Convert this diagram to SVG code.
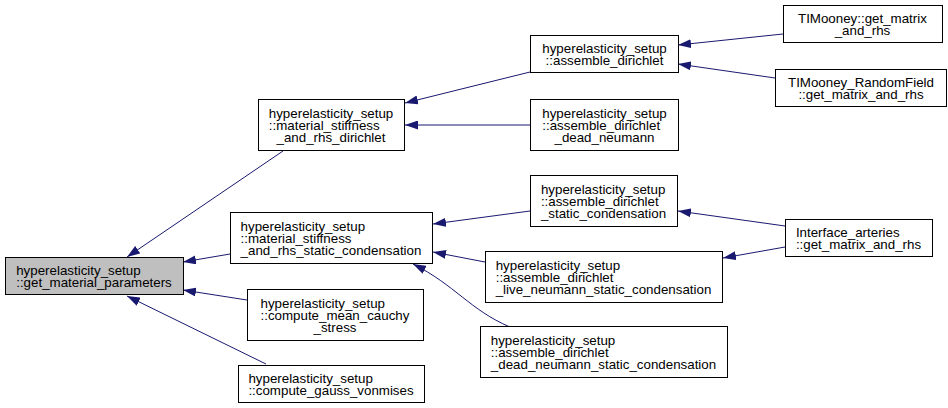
<svg xmlns="http://www.w3.org/2000/svg" width="948" height="408" viewBox="0 0 948 408">
<style>
.n rect{fill:#ffffff;stroke:#000000;stroke-width:1}
.n.hl rect{fill:#bfbfbf}
.n text{font-family:"Liberation Sans",Arial,Helvetica,sans-serif;font-size:13.33px;fill:#000000}
.m{text-anchor:middle}
.e path{fill:none;stroke:#191970;stroke-width:1;marker-end:url(#ah)}
</style>
<defs>
<marker id="ah" markerWidth="13" markerHeight="9" refX="13" refY="4.5" orient="auto" markerUnits="userSpaceOnUse" viewBox="0 0 13 9"><path d="M0,0 L13,4.5 L0,9 Z" fill="#191970"/></marker>
</defs>
<rect width="948" height="408" fill="#ffffff"/>
<g id="edges" class="e">
<path d="M283,151 L127,257"/>
<path d="M230,254 L183,262"/>
<path d="M247,300 L183,290"/>
<path d="M266,364 L127,296"/>
<path d="M530,72 L405,103"/>
<path d="M530,125 L405,125"/>
<path d="M530,211 L433,224"/>
<path d="M485,262 L433,252"/>
<path d="M510,327 C470,310 455,285 413,264"/>
<path d="M783,34 L678,45"/>
<path d="M775,78 L678,64"/>
<path d="M785,226 L678,211"/>
<path d="M785,247 L723,258"/>
</g>
<g id="n_get_material_parameters" class="n hl">
<rect x="5.5" y="257.5" width="178" height="37"/>
<text x="16.2" y="274.5">hyperelasticity_setup</text>
<text class="m" x="94" y="286.5">::get_material_parameters</text>
</g>
<g id="n_material_stiffness_dirichlet" class="n">
<rect x="258.5" y="99.5" width="146" height="51"/>
<text x="268.8" y="117.5">hyperelasticity_setup</text>
<text x="268.8" y="129.5">::material_stiffness</text>
<text class="m" x="331" y="141.5">_and_rhs_dirichlet</text>
</g>
<g id="n_material_stiffness_static" class="n">
<rect x="230.5" y="212.5" width="202" height="51"/>
<text x="240.6" y="230.5">hyperelasticity_setup</text>
<text x="240.6" y="242.5">::material_stiffness</text>
<text class="m" x="331" y="254.5">_and_rhs_static_condensation</text>
</g>
<g id="n_compute_mean_cauchy_stress" class="n">
<rect x="247.5" y="289.5" width="176" height="51"/>
<text x="260.5" y="307.5">hyperelasticity_setup</text>
<text x="260.5" y="319.5">::compute_mean_cauchy</text>
<text class="m" x="335" y="331.5">_stress</text>
</g>
<g id="n_compute_gauss_vonmises" class="n">
<rect x="238.5" y="365.5" width="186" height="37"/>
<text x="248.4" y="382.5">hyperelasticity_setup</text>
<text class="m" x="331" y="394.5">::compute_gauss_vonmises</text>
</g>
<g id="n_assemble_dirichlet" class="n">
<rect x="530.5" y="35.5" width="148" height="37"/>
<text x="542.3" y="52.5">hyperelasticity_setup</text>
<text class="m" x="604.5" y="64.5">::assemble_dirichlet</text>
</g>
<g id="n_assemble_dirichlet_dead_neumann" class="n">
<rect x="530.5" y="99.5" width="148" height="51"/>
<text x="542.3" y="117.5">hyperelasticity_setup</text>
<text x="542.3" y="129.5">::assemble_dirichlet</text>
<text class="m" x="604.5" y="141.5">_dead_neumann</text>
</g>
<g id="n_assemble_dirichlet_static" class="n">
<rect x="530.5" y="175.5" width="147" height="51"/>
<text x="540.9" y="193.5">hyperelasticity_setup</text>
<text x="540.9" y="205.5">::assemble_dirichlet</text>
<text class="m" x="603.5" y="217.5">_static_condensation</text>
</g>
<g id="n_assemble_dirichlet_live_static" class="n">
<rect x="485.5" y="251.5" width="237" height="51"/>
<text x="495.7" y="269.5">hyperelasticity_setup</text>
<text x="495.7" y="281.5">::assemble_dirichlet</text>
<text class="m" x="603.5" y="293.5">_live_neumann_static_condensation</text>
</g>
<g id="n_assemble_dirichlet_dead_static" class="n">
<rect x="480.5" y="326.5" width="247" height="51"/>
<text x="490.8" y="344.5">hyperelasticity_setup</text>
<text x="490.8" y="356.5">::assemble_dirichlet</text>
<text class="m" x="603.5" y="368.5">_dead_neumann_static_condensation</text>
</g>
<g id="n_timooney" class="n">
<rect x="783.5" y="5.5" width="159" height="37"/>
<text x="798" y="22.5">TIMooney::get_matrix</text>
<text class="m" x="862.5" y="34.5">_and_rhs</text>
</g>
<g id="n_timooney_randomfield" class="n">
<rect x="775.5" y="69.5" width="171" height="37"/>
<text x="788" y="86.5">TIMooney_RandomField</text>
<text class="m" x="861" y="98.5">::get_matrix_and_rhs</text>
</g>
<g id="n_interface_arteries" class="n">
<rect x="785.5" y="219.5" width="147" height="37"/>
<text x="795.9" y="236.5">Interface_arteries</text>
<text class="m" x="858.5" y="248.5">::get_matrix_and_rhs</text>
</g>
</svg>
